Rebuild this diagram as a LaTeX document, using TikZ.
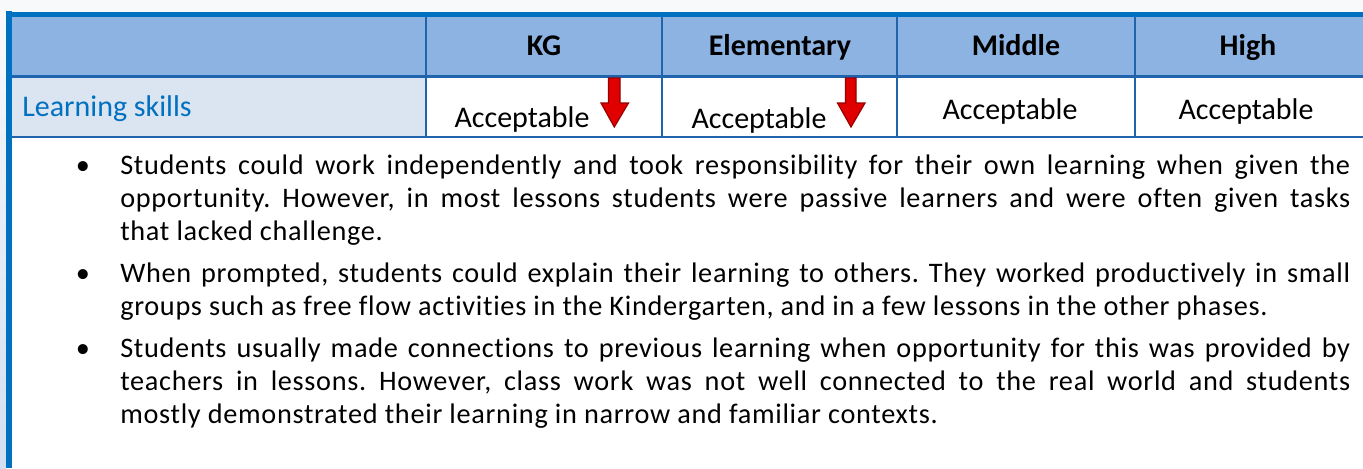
\documentclass[tikz,border=0pt]{standalone}
\usepackage{fontspec}
\setmainfont[Ligatures=NoCommon]{Carlito}
\newfontfamily\bodyfont[LetterSpace=2.5,Ligatures=NoCommon]{Carlito}
\frenchspacing
\definecolor{hdrblue}{HTML}{8DB3E2}
\definecolor{lightcell}{HTML}{DBE5F1}
\definecolor{borderblue}{HTML}{0070C0}
\definecolor{gridblue}{HTML}{1F64AC}
\definecolor{topbg}{HTML}{F8F9FB}
\definecolor{stripbot}{HTML}{D3E0F1}
\definecolor{arrowred}{HTML}{E00000}
\definecolor{arrowdark}{HTML}{9A0000}
\tikzset{
  hdrtext/.style={anchor=base, inner sep=0pt, font={\fontsize{22.5pt}{27pt}\selectfont\bfseries}, text=black},
  celltext/.style={anchor=base, inner sep=0pt, font={\fontsize{22.5pt}{27pt}\selectfont}, text=black},
  rowlabel/.style={anchor=base west, inner sep=0pt, font={\fontsize{22.5pt}{27pt}\selectfont}, text=borderblue},
  bodytext/.style={anchor=base west, inner sep=0pt, text width=922.5pt, align=justify,
    font={\bodyfont\fontsize{21.2pt}{24.75pt}\selectfont\frenchspacing\tolerance=10000}, text=black},
  bulletmark/.style={anchor=base, inner sep=0pt, font={\fontsize{21.2pt}{24.75pt}\selectfont}},
  gridline/.style={draw=gridblue, line width=1.6pt},
  downarrow/.style={fill=arrowred, draw=arrowdark, line width=0.9pt, line join=miter},
}
\begin{document}
\begin{tikzpicture}[x=0.75pt,y=-0.75pt]
\useasboundingbox (0,0) rectangle (1363,468);
% backgrounds
\fill[white] (0,0) rectangle (1363,468);
\fill[topbg] (0,0) rectangle (1363,12);
\shade[top color=topbg, bottom color=stripbot] (0,12) rectangle (6,468);
% cell fills
\fill[hdrblue] (12,17) rectangle (1363,76);
\fill[lightcell] (12,77) rectangle (426,137);
% grid lines
\draw[gridline] (12,76.5) -- (1363,76.5);
\draw[gridline] (12,137) -- (1363,137);
\foreach \xx in {426,662,897,1135} {\draw[gridline] (\xx,17) -- (\xx,137);}
% thick border
\draw[borderblue, line width=3.9pt] (6,14.5) -- (1363,14.5);
\draw[borderblue, line width=4.5pt] (9,11) -- (9,468);
% header texts
\node[hdrtext] (kg) at (544,55) {KG};
\node[hdrtext] (elem) at (780,55) {Elementary};
\node[hdrtext] (mid) at (1016,55) {Middle};
\node[hdrtext] (high) at (1248,55) {High};
% row texts
\node[rowlabel] (ls) at (22,116) {Learning skills};
\node[celltext] (kgv) at (522,127) {Acceptable};
\node[celltext] (elv) at (759,128) {Acceptable};
\node[celltext] (miv) at (1010,119) {Acceptable};
\node[celltext] (hiv) at (1246,119) {Acceptable};
% red down arrows
\draw[downarrow] (608.5,78) -- (620,78) -- (620,103) -- (628.5,103) -- (614.3,127) -- (601,103) -- (608.5,103) -- cycle;
\draw[downarrow] (845.5,78) -- (856,78) -- (856,103) -- (865,103) -- (851,127) -- (837.5,103) -- (845.5,103) -- cycle;
% bullets
\node[bulletmark] (b1) at (83,174) {\textbullet};
\node[bulletmark] (b2) at (83,282) {\textbullet};
\node[bulletmark] (b3) at (83,357) {\textbullet};
\node[bodytext] (t1) at (120,174) {Students could work independently and took responsibility for their own learning when given the\linebreak opportunity. However, in most lessons students were passive learners and were often given tasks\linebreak that lacked challenge.};
\node[bodytext] (t2) at (120,282) {When prompted, students could explain their learning to others. They worked productively in small\linebreak groups such as free flow activities in the Kindergarten, and in a few lessons in the other phases.};
\node[bodytext] (t3) at (120,357) {Students usually made connections to previous learning when opportunity for this was provided by\linebreak teachers in lessons. However, class work was not well connected to the real world and students\linebreak mostly demonstrated their learning in narrow and familiar contexts.};
\end{tikzpicture}
\end{document}
